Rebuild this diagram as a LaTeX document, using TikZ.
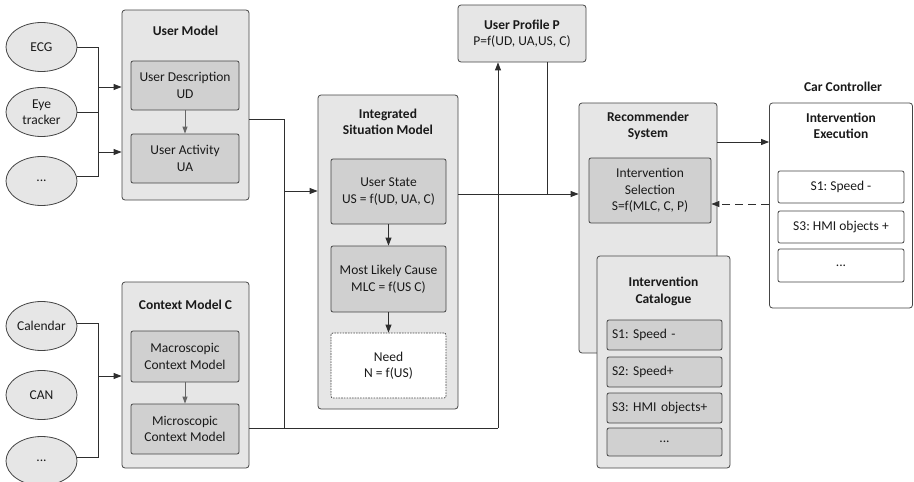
\documentclass[tikz,border=0pt]{standalone}
\usepackage{fontspec}
\setmainfont{Carlito}
\usetikzlibrary{arrows.meta,shapes.geometric}
\definecolor{outerfill}{HTML}{E6E6E6}
\definecolor{innerfill}{HTML}{D0D0D0}
\definecolor{edge}{HTML}{454545}
\definecolor{wire}{HTML}{2E2E2E}
\definecolor{inkc}{HTML}{1A1A1A}
\frenchspacing
\begin{document}
\begin{tikzpicture}[x=1pt,y=-1pt,
  font=\fontsize{13.5pt}{16.5pt}\selectfont, text=inkc,
  outerbox/.style={draw=edge, fill=outerfill, rounded corners=3pt, line width=0.8pt, inner sep=0pt},
  innerbox/.style={draw=edge, fill=innerfill, rounded corners=2pt, line width=0.8pt, inner sep=0pt, align=center},
  whitebox/.style={draw=edge, fill=white, rounded corners=2pt, line width=0.8pt, inner sep=0pt, align=center},
  itembox/.style={innerbox, minimum width=115pt, text width=105pt, align=left, inner xsep=5pt},
  sensor/.style={ellipse, draw=edge, fill=outerfill, line width=0.8pt, minimum width=71pt, minimum height=49pt, inner sep=0pt, align=center},
  title/.style={font=\fontsize{13.5pt}{16.5pt}\selectfont\bfseries, align=center},
  wireline/.style={draw=wire, line width=0.9pt},
  arr/.style={wireline, -{Triangle[length=8pt,width=6pt]}},
  softarr/.style={draw=gray!80!black, line width=0.9pt, -{Triangle[length=7pt,width=5pt]}},
]
\useasboundingbox (0,0) rectangle (914,482);

% ---- sensors ----
\node[sensor] (ecg) at (41.5,47) {ECG};
\node[sensor] (eye) at (41.5,112) {Eye\\tracker};
\node[sensor] (dotsA) at (41.5,181) {...};
\node[sensor] (cal) at (41.5,326) {Calendar};
\node[sensor] (can) at (41.5,395) {CAN};
\node[sensor] (dotsB) at (41.5,461) {...};

% ---- user model ----
\node[outerbox, minimum width=127pt, minimum height=190pt] (um) at (185.5,105) {};
\node[title] (umt) at (185.5,31) {User Model};
\node[innerbox, minimum width=108pt, minimum height=49pt] (ud) at (185,85.5) {User Description\\UD};
\node[innerbox, minimum width=108pt, minimum height=49pt] (ua) at (185,158.5) {User Activity\\UA};
\draw[softarr] (ud) -- (ua);

% ---- context model ----
\node[outerbox, minimum width=127pt, minimum height=186pt] (cm) at (185.5,375) {};
\node[title] (cmt) at (185.5,305) {Context Model C};
\node[innerbox, minimum width=108pt, minimum height=51pt] (macro) at (185,356.5) {Macroscopic\\Context Model};
\node[innerbox, minimum width=108pt, minimum height=50pt] (micro) at (185,429) {Microscopic\\Context Model};
\draw[softarr] (macro) -- (micro);

% ---- integrated situation model ----
\node[outerbox, minimum width=140pt, minimum height=314pt] (ism) at (388,252) {};
\node[title] (ismt) at (388,122) {Integrated\\Situation Model};
\node[innerbox, minimum width=115pt, minimum height=65pt] (us) at (388.5,191.5) {User State\\US = f(UD, UA, C)};
\node[innerbox, minimum width=115pt, minimum height=66pt] (mlc) at (388.5,279) {Most Likely Cause\\MLC = f(US C)};
\node[whitebox, dash pattern=on 1.6pt off 1.1pt, minimum width=115pt, minimum height=65pt] (need) at (388.5,365.5) {Need\\N = f(US)};
\draw[arr] (us) -- (mlc);
\draw[arr] (mlc) -- (need);

% ---- user profile ----
\node[outerbox, minimum width=128pt, minimum height=57pt, align=center] (up) at (522,33.5)
  {\textbf{User Profile P}\\P=f(UD, UA,US, C)};

% ---- recommender system and catalogue ----
\node[outerbox, minimum width=138pt, minimum height=250pt] (rs) at (648,228) {};
\node[title] (rst) at (648,126) {Recommender\\System};
\node[innerbox, minimum width=122pt, minimum height=65pt] (sel) at (650,190.5) {Intervention\\Selection\\S=f(MLC, C, P)};

\node[outerbox, minimum width=133pt, minimum height=212pt] (ic) at (663.5,362) {};
\node[title] (ict) at (663.5,291.5) {Intervention\\Catalogue};
\node[itembox, minimum height=30pt] (c1) at (664.5,335) {S1: Speed -};
\node[itembox, minimum height=30pt] (c2) at (664.5,372) {S2: Speed+};
\node[itembox, minimum height=30pt] (c3) at (664.5,408) {S3: HMI objects+};
\node[innerbox, minimum width=115pt, minimum height=28pt] (c4) at (664.5,442) {...};

% ---- car controller ----
\node[title] (cct) at (843,87) {Car Controller};
\node[whitebox, rounded corners=3pt, minimum width=143pt, minimum height=205pt] (ie) at (841,205.5) {};
\node[title] (iet) at (841,126) {Intervention\\Execution};
\node[whitebox, minimum width=126pt, minimum height=32pt] (e1) at (841,187) {S1: Speed -};
\node[whitebox, minimum width=126pt, minimum height=32pt] (e3) at (841,227) {S3: HMI objects +};
\node[whitebox, minimum width=126pt, minimum height=33pt] (e4) at (841,265.5) {...};

% ---- sensor wiring ----
\coordinate (busA) at (98,47);
\coordinate (busAend) at (98,176);
\coordinate (inA1) at (98,87);
\coordinate (inA2) at (98,152);
\draw[wireline] (ecg.east |- busA) -- (busA) -- (busAend) -- (dotsA.east |- busAend);
\draw[wireline] (eye.east) -- (eye.east -| busA);
\draw[arr] (inA1) -- (um.west |- inA1);
\draw[arr] (inA2) -- (um.west |- inA2);

\coordinate (busB) at (98,323);
\coordinate (busBend) at (98,457);
\coordinate (inB) at (98,376);
\draw[wireline] (cal.east |- busB) -- (busB) -- (busBend) -- (dotsB.east |- busBend);
\draw[arr] (inB) -- (cm.west |- inB);

% ---- model outputs ----
\coordinate (mergeTop) at (284,119);
\coordinate (mergeBot) at (284,428);
\coordinate (mergeIn) at (284,191);
\coordinate (ctxTurn) at (498,428);
\draw[wireline] (um.east |- mergeTop) -- (mergeTop) -- (mergeBot);
\draw[wireline] (cm.east |- mergeBot) -- (ctxTurn);
\draw[arr] (ctxTurn) -- (ctxTurn |- up.south);
\draw[arr] (mergeIn) -- (ism.west |- mergeIn);

\coordinate (sitOut) at (458,194);
\coordinate (profJoin) at (547,194);
\draw[arr] (sitOut) -- (rs.west |- sitOut);
\draw[wireline] (up.south -| profJoin) -- (profJoin);

\coordinate (recOut) at (717,142);
\draw[arr] (recOut) -- (ie.west |- recOut);
\coordinate (fbStart) at (769,204);
\draw[arr, dash pattern=on 8pt off 5pt] (fbStart) -- (sel.east |- fbStart);
\end{tikzpicture}
\end{document}
